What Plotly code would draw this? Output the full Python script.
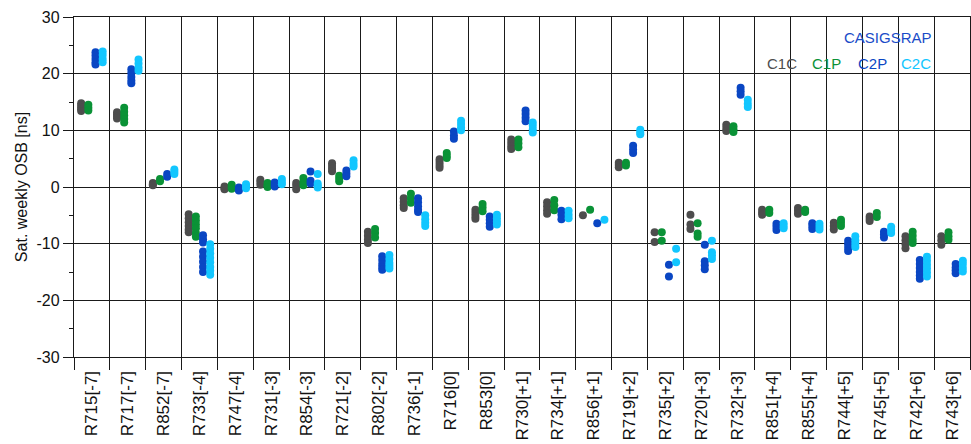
import plotly.graph_objects as go

# GLONASS satellites (slot/frequency channel) on the category axis
satellites = [
    "R715[-7]", "R717[-7]", "R852[-7]", "R733[-4]", "R747[-4]", "R731[-3]",
    "R854[-3]", "R721[-2]", "R802[-2]", "R736[-1]", "R716[0]", "R853[0]",
    "R730[+1]", "R734[+1]", "R856[+1]", "R719[+2]", "R735[+2]", "R720[+3]",
    "R732[+3]", "R851[+4]", "R855[+4]", "R744[+5]", "R745[+5]", "R742[+6]",
    "R743[+6]",
]

# Weekly OSB estimates [ns] per satellite, one list of weeks per satellite
osb_c1c = [
    [14.8, 14.4, 14.0, 13.7, 13.4], [13.2, 12.8, 12.4, 12.1], [0.7, 0.5, 0.3],
    [-4.8, -5.5, -6.2, -6.9, -7.5, -8.0], [0.1, -0.2, -0.4], [1.3, 0.9, 0.4],
    [0.7, 0.2, -0.4], [4.2, 3.7, 3.2, 2.8], [-7.9, -8.6, -9.3, -9.9],
    [-2.0, -2.6, -3.2, -3.7], [4.9, 4.4, 3.9, 3.4], [-4.0, -4.6, -5.1, -5.6],
    [8.4, 7.8, 7.2, 6.7], [-2.7, -3.4, -4.1, -4.7], [-5.0], [4.3, 3.9, 3.5],
    [-8.0, -9.7], [-4.9, -6.6, -7.4], [11.0, 10.4, 9.9], [-4.0, -4.5, -4.9],
    [-3.7, -4.2, -4.7], [-6.3, -6.9, -7.5], [-5.2, -5.6, -6.0],
    [-8.7, -9.4, -10.1, -10.8], [-8.7, -9.4, -10.2],
]
osb_c1p = [
    [14.5, 14.0, 13.5], [14.0, 13.3, 12.6, 12.0, 11.4], [1.4, 1.0],
    [-5.2, -5.9, -6.6, -7.3, -8.1, -8.8], [0.4, 0.0, -0.3], [0.7, 0.3, 0.0],
    [1.6, 0.9, 0.3], [2.0, 1.5, 1.0], [-7.4, -8.1, -8.9],
    [-1.2, -2.0, -2.8], [6.0, 5.5, 5.1], [-3.0, -3.6, -4.3],
    [8.4, 7.7, 7.0], [-2.3, -3.2, -4.1], [-4.0], [4.3, 3.8],
    [-8.0, -9.5], [-6.4, -8.2, -8.8], [10.7, 10.2, 9.7], [-4.0, -4.6],
    [-4.0, -4.4], [-5.8, -6.3, -6.9], [-4.6, -5.3],
    [-7.9, -8.6, -9.3, -9.9], [-8.0, -8.7, -9.3],
]
osb_c2p = [
    [23.8, 23.2, 22.6, 22.0, 21.6], [20.8, 20.1, 19.4, 18.8, 18.3], [2.3, 1.8],
    [-8.5, -9.2, -9.8, -11.4, -12.3, -13.2, -14.1, -15.0], [-0.1, -0.4, -0.6],
    [0.8, 0.4, 0.1], [2.75, 1.1, 0.6], [2.9, 2.4, 1.9],
    [-12.2, -12.9, -13.6, -14.1, -14.6], [-2.0, -2.7, -3.4, -4.0, -4.4],
    [9.8, 9.1, 8.5], [-5.2, -5.8, -6.4, -7.0], [13.5, 12.9, 12.2, 11.6],
    [-4.2, -4.9, -5.7], [-6.4], [7.3, 6.6, 6.0], [-13.7, -15.8],
    [-10.2, -13.1, -13.8, -14.5], [17.5, 16.9, 16.3], [-6.5, -7.0, -7.6],
    [-6.4, -6.9, -7.4], [-9.5, -10.1, -10.7, -11.3], [-7.9, -8.4, -8.9],
    [-12.9, -13.6, -14.3, -15.0, -15.6, -16.2], [-13.6, -14.2, -14.7, -15.2],
]
osb_c2c = [
    [23.9, 23.3, 22.6, 22.0], [22.5, 21.8, 21.1, 20.5], [3.1, 2.7, 2.3],
    [-10.1, -10.9, -11.7, -12.5, -13.3, -14.1, -14.8, -15.5], [0.5, 0.1, -0.2],
    [1.4, 0.9, 0.5], [2.3, 0.6, 0.2, -0.1], [4.7, 4.1, 3.6],
    [-12.0, -12.7, -13.4, -13.9, -14.4], [-5.0, -5.7, -6.3, -6.9],
    [11.7, 11.1, 10.5, 10.0], [-4.9, -5.5, -6.1, -6.6], [11.4, 10.8, 10.2, 9.6],
    [-4.2, -4.9, -5.5], [-5.8], [10.1, 9.6, 9.3], [-10.9, -13.3],
    [-9.5, -11.5, -12.1, -12.7], [15.4, 14.7, 14.1], [-6.4, -6.9, -7.3],
    [-6.5, -7.0, -7.5], [-8.7, -9.4, -10.0, -10.6], [-7.0, -7.6, -8.1],
    [-12.3, -13.0, -13.7, -14.4, -15.1, -15.8], [-13.0, -13.6, -14.3, -14.9],
]

# y-axis ticks, labelled with a plain hyphen minus
y_ticks = [-30, -20, -10, 0, 10, 20, 30]
y_tick_labels = ["-30", "-20", "-10", "0", "10", "20", "30"]

signals = ["C1C", "C1P", "C2P", "C2C"]
series = [osb_c1c, osb_c1p, osb_c2p, osb_c2c]
colors = ["#4d4d4d", "#0a9236", "#0a46c3", "#12c6ff"]

FONT = "Arial, Liberation Sans, sans-serif"

fig = go.Figure()
for name, weeks, color in zip(signals, series, colors):
    xs, ys = [], []
    for sat, vals in zip(satellites, weeks):
        xs.extend([sat] * len(vals))
        ys.extend(vals)
    fig.add_trace(go.Scatter(
        x=xs, y=ys, mode="markers", name=name, offsetgroup=name,
        marker=dict(symbol="circle", size=8, color=color, line=dict(width=0)),
        showlegend=False,
    ))

# Text legend in the upper right corner
fig.add_annotation(x=0.908, y=0.94, xref="paper", yref="paper",
                   xanchor="center", yanchor="middle",
                   text="CASIGSRAP", showarrow=False,
                   font=dict(family=FONT, size=15, color="#1a4cc8"))
legend_x = [0.790, 0.840, 0.891, 0.940]
for name, color, lx in zip(signals, colors, legend_x):
    fig.add_annotation(x=lx, y=0.863, xref="paper", yref="paper",
                       xanchor="center", yanchor="middle",
                       text=name, showarrow=False,
                       font=dict(family=FONT, size=15, color=color))

fig.update_layout(
    width=971, height=444,
    margin=dict(l=74, r=1, t=17, b=87),
    paper_bgcolor="white", plot_bgcolor="white",
    scattermode="group", scattergap=0.2,
    font=dict(family=FONT, size=16, color="#111111"),
    showlegend=False,
)
fig.update_xaxes(
    type="category", categoryorder="array", categoryarray=satellites,
    tickson="boundaries", ticks="outside", ticklen=12, tickwidth=1.3,
    tickcolor="#1a1a1a", tickangle=-90, ticklabelstandoff=6,
    showgrid=True, gridcolor="#1a1a1a", gridwidth=1.3,
    showline=True, linecolor="#1a1a1a", linewidth=1.3, mirror=True,
    tickfont=dict(family=FONT, size=17, color="#111111"),
)
fig.update_yaxes(
    range=[-30, 30], tickmode="array", tickvals=y_ticks, ticktext=y_tick_labels,
    ticks="outside", ticklen=10, tickwidth=1.3, tickcolor="#1a1a1a",
    showgrid=True, gridcolor="#1a1a1a", gridwidth=1.3, zeroline=False,
    showline=True, linecolor="#1a1a1a", linewidth=1.3, mirror=True,
    minor=dict(dtick=5, tick0=0, ticks="outside", ticklen=4, tickwidth=1.3,
               tickcolor="#1a1a1a", showgrid=False),
    title=dict(text="Sat. weekly OSB [ns]", standoff=4,
               font=dict(family=FONT, size=16, color="#111111")),
    tickfont=dict(family=FONT, size=16, color="#111111"),
)

fig.write_html("out.html")
